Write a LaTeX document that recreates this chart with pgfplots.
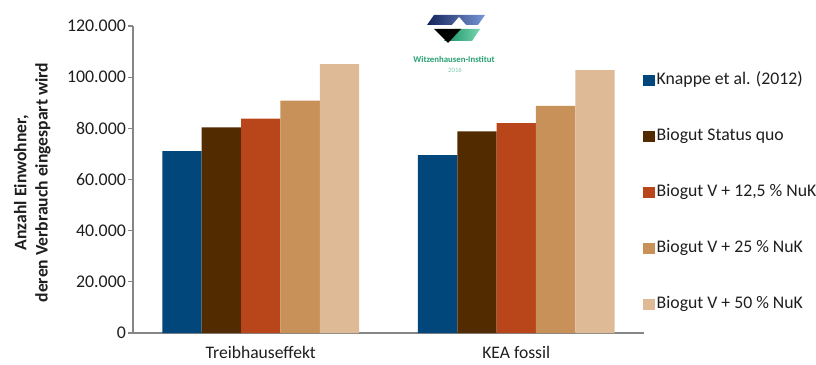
\documentclass[border=0pt]{standalone}
\usepackage{pgfplots}
\pgfplotsset{compat=1.18}
\usepackage{fontspec}
\setmainfont{Carlito}
\definecolor{cBlue}{RGB}{2,71,124}
\definecolor{cBrown}{RGB}{83,43,0}
\definecolor{cOrange}{RGB}{184,70,26}
\definecolor{cTan}{RGB}{201,145,90}
\definecolor{cLight}{RGB}{222,186,150}
\definecolor{axgray}{RGB}{134,134,134}
\definecolor{txt}{RGB}{30,30,30}
\definecolor{logogreen}{RGB}{40,160,115}
\begin{document}
\fontsize{13.2}{16}\selectfont
\begin{tikzpicture}
\begin{axis}[
  at={(0,0)}, anchor=south west,
  scale only axis, width=383.25pt, height=230.25pt,
  ybar=0pt, bar width=29.5pt,
  xmin=-0.5, xmax=1.5, ymin=0, ymax=120000,
  xtick={0,1}, xticklabels={Treibhauseffekt,KEA fossil},
  ytick={0,20000,40000,60000,80000,100000,120000},
  yticklabels={0,20.000,40.000,60.000,80.000,100.000,120.000},
  scaled y ticks=false,
  axis x line*=bottom, axis y line*=left,
  axis line style={axgray, line width=0.9pt},
  x axis line style={-}, y axis line style={-},
  xtick style={draw=none},
  ytick style={axgray, line width=0.9pt},
  tick align=outside, major tick length=3.75pt,
  yticklabel style={anchor=east, xshift=3pt, text=txt, font=\fontsize{13.4}{16}\selectfont},
  xticklabel style={anchor=base, yshift=-15.5pt, text=txt, font=\fontsize{13.2}{16}\selectfont},
  ylabel={Anzahl Einwohner,\\deren Verbrauch eingespart wird},
  ylabel style={at={(axis description cs:-0.197,0.49)}, anchor=center, rotate=0, align=center, font=\bfseries\fontsize{13.2}{15.8}\selectfont, text=txt},
  legend cell align=left,
  legend style={draw=none, fill=none, at={(axis description cs:0.9975,0.851)}, anchor=north west,
    inner sep=0pt, row sep=29.5pt, text=txt,
    nodes={inner sep=0pt, text height=9.5pt, text depth=3pt, font=\fontsize{13.3}{16}\selectfont}},
  legend image code/.code={\fill[#1] (0pt,-4.35pt) rectangle (8.7pt,4.35pt); \path (0pt,0pt) -- (10.3pt,0pt);},
  every axis plot/.append style={draw=none},
]
\addplot[fill=cBlue]   coordinates {(0,71100) (1,69500)};
\addplot[fill=cBrown]  coordinates {(0,80400) (1,78800)};
\addplot[fill=cOrange] coordinates {(0,83800) (1,82000)};
\addplot[fill=cTan]    coordinates {(0,90800) (1,88800)};
\addplot[fill=cLight]  coordinates {(0,105100) (1,102800)};
\legend{Knappe et al. (2012),Biogut Status quo,{Biogut V + 12,5 \% NuK},{Biogut V + 25 \% NuK},{Biogut V + 50 \% NuK}}
\end{axis}
\begin{scope}[x=0.75pt,y=-0.75pt,shift={(-99.75pt,249.75pt)}]
  \shade[left color={rgb,255:red,20;green,35;blue,90}, right color={rgb,255:red,120;green,150;blue,215}]
    (434,15) -- (485,15) -- (478,25) -- (427,25) -- cycle;
  \fill[white] (452,25) -- (459,17) -- (466,25) -- cycle;
  \shade[left color={rgb,255:red,20;green,140;blue,100}, right color={rgb,255:red,120;green,215;blue,175}]
    (455,29) -- (480,29) -- (472,41) -- (444,41) -- cycle;
  \fill[black] (434,29) -- (461,29) -- (448,43) -- cycle;
  \node[text=logogreen, font=\bfseries\fontsize{6.6}{7}\selectfont, inner sep=0pt] at (454,59) {Witzenhausen-Institut};
  \node[text=logogreen!60, font=\fontsize{5}{5}\selectfont, inner sep=0pt] at (455,70) {2016};
\end{scope}
\pgfresetboundingbox
\path[use as bounding box] (-99.75pt,-23.25pt) rectangle (512.25pt,249.75pt);
\end{tikzpicture}
\end{document}
